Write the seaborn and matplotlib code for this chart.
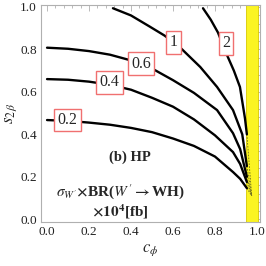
import numpy as np
import pandas as pd
import matplotlib
matplotlib.use('Agg')
import matplotlib.pyplot as plt
import seaborn as sns
from matplotlib.ticker import MultipleLocator

# contour lines of sigma x BR: (c_phi, s_2beta)
c02_x = [0.0, 0.1, 0.2, 0.3, 0.4, 0.5, 0.6, 0.7, 0.8, 0.886, 0.92, 0.952]
c02_y = [0.467, 0.463, 0.455, 0.445, 0.43, 0.41, 0.38, 0.345, 0.295, 0.222, 0.19, 0.146]

c04_x = [0.0, 0.1, 0.2, 0.3, 0.4, 0.5, 0.6, 0.7, 0.8, 0.886, 0.92, 0.952]
c04_y = [0.66, 0.657, 0.648, 0.633, 0.61, 0.572, 0.53, 0.47, 0.395, 0.316, 0.26, 0.175]

c06_x = [0.0, 0.1, 0.2, 0.3, 0.4, 0.5, 0.6, 0.7, 0.81, 0.886, 0.92, 0.952]
c06_y = [0.808, 0.803, 0.792, 0.775, 0.748, 0.71, 0.655, 0.595, 0.514, 0.405, 0.33, 0.2]

c1_x = [0.314, 0.4, 0.49, 0.56, 0.633, 0.73, 0.81, 0.886, 0.93, 0.952]
c1_y = [0.994, 0.96, 0.907, 0.865, 0.81, 0.717, 0.623, 0.514, 0.4, 0.25]

c2_x = [0.743, 0.78, 0.814, 0.857, 0.89, 0.919, 0.943, 0.952]
c2_y = [0.994, 0.94, 0.88, 0.774, 0.70, 0.623, 0.475, 0.40]

# label text and where it sits
level_names = ['0.2', '0.4', '0.6', '1', '2']
label_x = [0.098, 0.298, 0.448, 0.602, 0.852]
label_y = [0.467, 0.644, 0.733, 0.833, 0.828]

# excluded strip
band_lo, band_hi = 0.95, 1.005

curves = [(c02_x, c02_y), (c04_x, c04_y), (c06_x, c06_y), (c1_x, c1_y), (c2_x, c2_y)]
rows = []
for name, (xs, ys) in zip(level_names, curves):
    for a, b in zip(xs, ys):
        rows.append({'level': name, 'c': a, 's': b})
df = pd.DataFrame(rows)

sns.set_style('white')
plt.rcParams['font.family'] = ['Liberation Serif', 'DejaVu Serif']
plt.rcParams['mathtext.fontset'] = 'stix'

fig = plt.figure(figsize=(2.66, 2.66), dpi=100)
ax = fig.add_axes([0.154, 0.165, 0.823, 0.816])

ax.axvspan(band_lo, band_hi, color='#fbf422', ec='#d8c800', lw=0.6, zorder=1)

sns.lineplot(data=df, x='c', y='s', units='level', estimator=None, sort=False,
             color='black', lw=1.7, ax=ax, zorder=3)

# faint dashed continuation inside the strip
for xs, ys in curves:
    ax.plot([xs[-1], 0.975], [ys[-1], 0.11], ls=(0, (2, 1.5)), color='#6b6a20', lw=0.6, zorder=2)

for name, lx, ly in zip(level_names, label_x, label_y):
    ax.text(lx, ly, name, ha='center', va='center', fontsize=11.5, zorder=5,
            bbox=dict(boxstyle='square,pad=0.2', fc='white', ec='#f07070', lw=1.0))

ax.text(0.395, 0.292, '(b) HP', ha='center', va='center', fontsize=10.5, fontweight='bold')
ax.text(0.35, 0.13, r'$\sigma_{W^{\prime}}$$\mathbf{\times}$BR($\mathit{W}^{\prime}$$\mathbf{\rightarrow}$WH)',
        ha='center', va='center', fontsize=11, fontweight='bold')
ax.text(0.35, 0.035, r'$\mathbf{\times 10^{4}}$[fb]', ha='center', va='center',
        fontsize=11, fontweight='bold')

ax.set_xlim(-0.029, 1.014)
ax.set_ylim(-0.014, 1.009)
ax.xaxis.set_major_locator(MultipleLocator(0.2))
ax.yaxis.set_major_locator(MultipleLocator(0.2))
ax.xaxis.set_minor_locator(MultipleLocator(0.04))
ax.yaxis.set_minor_locator(MultipleLocator(0.04))
ax.tick_params(which='both', direction='in', top=True, right=True, color='#b0b0b0',
               labelsize=9.5, labelcolor='#222222', width=0.6)
ax.tick_params(which='major', length=4, pad=3)
ax.tick_params(which='minor', length=2)
ax.xaxis.set_major_formatter(plt.FormatStrFormatter('%.1f'))
ax.yaxis.set_major_formatter(plt.FormatStrFormatter('%.1f'))
for sp in ax.spines.values():
    sp.set_color('#b0b0b0')
    sp.set_linewidth(0.8)

ax.set_xlabel(r'$c_{\phi}$', fontsize=12, labelpad=3)
ax.set_ylabel(r'$s_{2\,\beta}$', fontsize=12, labelpad=1)

fig.savefig('out.png', dpi=100)
